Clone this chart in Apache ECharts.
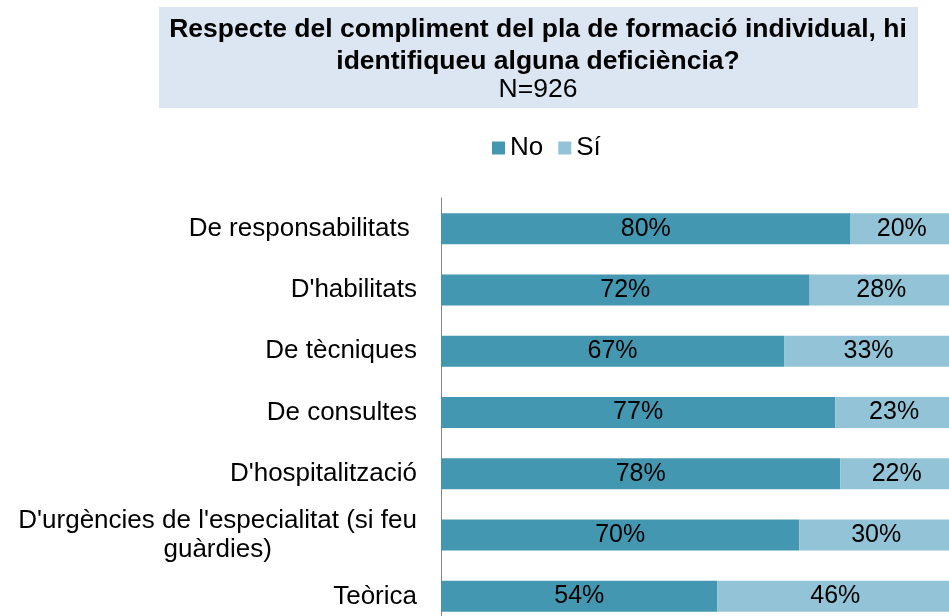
<!DOCTYPE html>
<html>
<head>
<meta charset="utf-8">
<script src="https://cdn.jsdelivr.net/npm/echarts@6/dist/echarts.min.js"></script>
<style>html,body{margin:0;padding:0;background:#fff;}#c{width:949px;height:616px;}</style>
</head>
<body>
<div id="c"></div>
<script>
var categories = ["De responsabilitats ", "D'habilitats", "De tècniques", "De consultes", "D'hospitalització", "D'urgències de l'especialitat (si feu\nguàrdies)", "Teòrica"];
var noValues = [80, 72, 67, 77, 78, 70, 54];
var siValues = [20, 28, 33, 23, 22, 30, 46];
var seriesNames = ["No", "Sí"];
var titleLines = ["Respecte del compliment del pla de formació individual, hi", "identifiqueu alguna deficiència?"];
var subtitle = "N=926";

var chart = echarts.init(document.getElementById('c'), null, {renderer: 'canvas'});
var FONT = 'Liberation Sans, Arial, sans-serif';
chart.setOption({
  animation: false,
  graphic: [{type: 'rect', shape: {x: 159, y: 7, width: 759, height: 101}, style: {fill: '#DCE6F2'}, z: -10}],
  title: [
    {text: titleLines.join('\n'), left: 533, textAlign: 'center', top: 9,
     textStyle: {fontFamily: FONT, fontSize: 26.5, fontWeight: 'bold', color: '#000', lineHeight: 32}},
    {text: subtitle, left: 533, textAlign: 'center', top: 72,
     textStyle: {fontFamily: FONT, fontSize: 26.5, fontWeight: 'normal', color: '#000', lineHeight: 26}}
  ],
  legend: {
    data: seriesNames, left: 487, top: 130, itemWidth: 13, itemHeight: 13, itemGap: 15, icon: 'rect',
    textStyle: {fontFamily: FONT, fontSize: 26, color: '#000', lineHeight: 26}
  },
  grid: {left: 441, top: 198, width: 512, height: 429, containLabel: false, outerBoundsMode: 'none'},
  xAxis: {type: 'value', min: 0, max: 100, show: false},
  yAxis: {
    type: 'category', data: categories, inverse: true,
    axisLine: {show: true, lineStyle: {color: '#868686', width: 1}},
    axisTick: {show: false},
    axisLabel: {
      margin: 24, fontFamily: FONT, fontSize: 26, color: '#000', lineHeight: 29,
      formatter: function (v) { return v.split('\n').map(function (l) { return '{w|' + l + '}'; }).join('\n'); },
      rich: {w: {align: 'center', fontFamily: FONT, fontSize: 26, color: '#000', lineHeight: 29}}
    }
  },
  series: [
    {name: seriesNames[0], type: 'bar', stack: 't', data: noValues, barWidth: 31,
     itemStyle: {color: '#4397B0'},
     label: {show: true, position: 'inside', formatter: '{c}%', fontFamily: FONT, fontSize: 25, color: '#000'}},
    {name: seriesNames[1], type: 'bar', stack: 't', data: siValues, barWidth: 31,
     itemStyle: {color: '#93C3D6'},
     label: {show: true, position: 'inside', formatter: '{c}%', fontFamily: FONT, fontSize: 25, color: '#000'}}
  ]
});
</script>
</body>
</html>
